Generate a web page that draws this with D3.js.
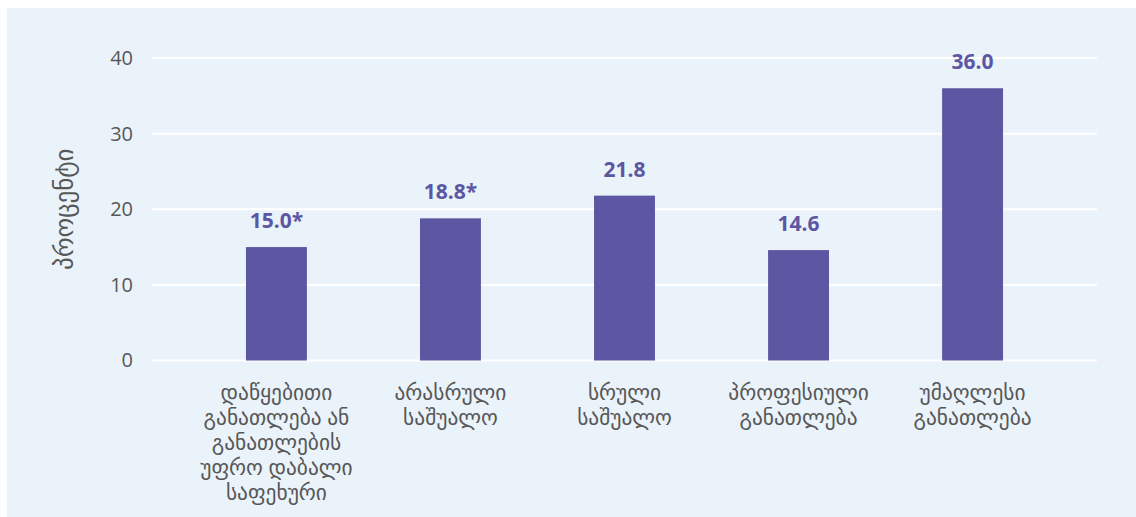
<!DOCTYPE html>
<html>
<head>
<meta charset="utf-8">
<script src="https://cdn.jsdelivr.net/npm/d3@7"></script>
<style>
  html, body { margin: 0; padding: 0; background: #ffffff; }
  svg { display: block; }
</style>
</head>
<body>
<div id="chart"></div>
<script>
// Education level categories (one entry per bar, with its wrapped label lines)
const categories = ["c1", "c2", "c3", "c4", "c5"];
const categoryLabels = [
  ["დაწყებითი", "განათლება ან", "განათლების", "უფრო დაბალი", "საფეხური"],
  ["არასრული", "საშუალო"],
  ["სრული", "საშუალო"],
  ["პროფესიული", "განათლება"],
  ["უმაღლესი", "განათლება"]
];
// Share in percent
const values = [15.0, 18.8, 21.8, 14.6, 36.0];
// Value labels printed over bars (asterisk marks low-reliability estimates)
const valueLabels = ["15.0*", "18.8*", "21.8", "14.6", "36.0"];
const yTicks = [0, 10, 20, 30, 40];
const yTitle = "პროცენტი";

const W = 1136, H = 517;
const bg = "#EAF2FA";
const barColor = "#5C56A3";
const textColor = "#575757";
const font = "'Open Sans', 'Noto Sans', 'DejaVu Sans', sans-serif";

const svg = d3.select("#chart").append("svg")
  .attr("width", W).attr("height", H);

svg.append("rect")
  .attr("x", 7).attr("y", 8)
  .attr("width", W - 7).attr("height", H - 8)
  .attr("fill", bg);

const plot = { left: 152, right: 1097, top: 58, bottom: 360.5 };

const x = d3.scaleBand()
  .domain(categories)
  .range([plot.left, plot.right])
  .paddingInner(0.65)
  .paddingOuter(0.54);

const y = d3.scaleLinear()
  .domain([0, 40])
  .range([plot.bottom, plot.top]);

// Gridlines
svg.append("g")
  .selectAll("line")
  .data(yTicks)
  .join("line")
  .attr("x1", plot.left).attr("x2", plot.right)
  .attr("y1", d => y(d)).attr("y2", d => y(d))
  .attr("stroke", "#ffffff")
  .attr("stroke-width", 2);

// Y axis labels
const yAxis = svg.append("g")
  .attr("transform", `translate(${plot.left}, 0)`)
  .call(d3.axisLeft(y).tickValues(yTicks).tickSize(0).tickPadding(19));
yAxis.select(".domain").remove();
yAxis.selectAll("text")
  .attr("fill", textColor)
  .style("font-family", font)
  .style("font-size", "20px");

// Y axis title
svg.append("text")
  .attr("transform", `translate(73, ${(plot.top + plot.bottom) / 2}) rotate(-90)`)
  .attr("text-anchor", "middle")
  .attr("fill", textColor)
  .style("font-family", font)
  .style("font-size", "25px")
  .text(yTitle);

// Bars
svg.append("g")
  .selectAll("rect")
  .data(values)
  .join("rect")
  .attr("x", (d, i) => x(categories[i]))
  .attr("width", x.bandwidth())
  .attr("y", d => y(d))
  .attr("height", d => y(0) - y(d))
  .attr("fill", barColor);

// Value labels
svg.append("g")
  .selectAll("text")
  .data(values)
  .join("text")
  .attr("x", (d, i) => x(categories[i]) + x.bandwidth() / 2)
  .attr("y", d => y(d) - 19)
  .attr("text-anchor", "middle")
  .attr("fill", barColor)
  .style("font-family", font)
  .style("font-size", "21px")
  .style("font-weight", "700")
  .text((d, i) => valueLabels[i]);

// Category labels
const catG = svg.append("g")
  .selectAll("text")
  .data(categoryLabels)
  .join("text")
  .attr("x", (d, i) => x(categories[i]) + x.bandwidth() / 2)
  .attr("y", 400)
  .attr("text-anchor", "middle")
  .attr("fill", textColor)
  .style("font-family", font)
  .style("font-size", "21.4px");
catG.selectAll("tspan")
  .data(d => d)
  .join("tspan")
  .attr("x", function () { return d3.select(this.parentNode).attr("x"); })
  .attr("dy", (d, i) => i === 0 ? 0 : 25)
  .text(d => d);
</script>
</body>
</html>
